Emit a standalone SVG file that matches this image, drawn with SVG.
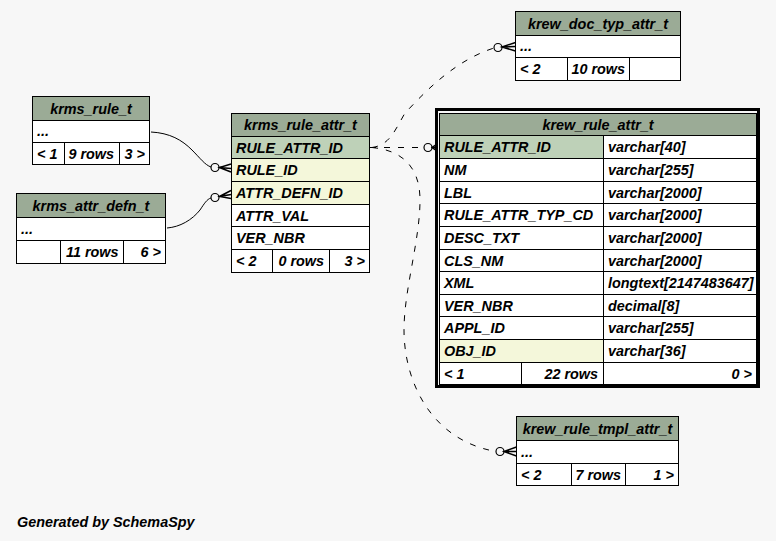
<svg xmlns="http://www.w3.org/2000/svg" width="776" height="541" viewBox="0 0 776 541">
<style>
text{font-family:"Liberation Sans",Arial,Helvetica,sans-serif;font-weight:bold;font-style:italic;font-size:14.4px;fill:#000}
.m{text-anchor:middle}
.r{text-anchor:end}
.hd{fill:#9bab96;stroke:#000;stroke-width:1}
.c{fill:#fff;stroke:#000;stroke-width:1}
.pk{fill:#bed1b8;stroke:#000;stroke-width:1}
.ix{fill:#f4f7da;stroke:#000;stroke-width:1}
.e{fill:none;stroke:#000;stroke-width:1}
.d{stroke-dasharray:6,8}
.dot{fill:none;stroke:#000;stroke-width:1.2}
.crow{fill:none;stroke:#000;stroke-width:1.5}
</style>
<rect x="0" y="0" width="776" height="541" fill="#f7f7f7"/>

<g id="edges">
  <path class="e" d="M151,132 C170,133 182,140 192,150 C200,158 205,165 211,167"/>
  <circle class="dot" cx="215" cy="167.5" r="4"/>
  <path class="crow" d="M231,164 L219.5,167.5 L231,172 M219.5,167.5 L231,168.5"/>

  <path class="e" d="M167,228 C180,227 192,220 200,210 C204,204 207,199 211,198"/>
  <circle class="dot" cx="215" cy="197.5" r="4"/>
  <path class="crow" d="M231,190.5 L219.5,196.5 L231,198.5 M219.5,196.5 L231,194.5"/>

  <path class="e d" d="M370,147.5 L424,147.5"/>
  <circle class="dot" cx="428" cy="147.5" r="4"/>
  <path class="crow" d="M437,144 L432,147.5 L437,151 M432,147.5 L437,147.5"/>

  <path class="e d" d="M372,147.5 C390,145 395,130 405,113 C418,100 450,62 494,48"/>
  <circle class="dot" cx="498" cy="47.5" r="4"/>
  <path class="crow" d="M515.5,42.5 L502,47 L515.5,51 M502,47 L515.5,46.5"/>

  <path class="e d" d="M372,147.5 C400,150 420,165 420,200 C420,240 404,290 404,330 C404,380 430,440 496,451.5"/>
  <circle class="dot" cx="500" cy="451.5" r="4"/>
  <path class="crow" d="M516.5,447 L504,451.5 L516.5,456 M504,451.5 L516.5,451.5"/>
</g>

<g id="krew_doc_typ_attr_t">
  <rect class="hd" x="515.5" y="11.5" width="165" height="24"/>
  <rect class="c" x="515.5" y="35.5" width="165" height="22"/>
  <rect class="c" x="515.5" y="57.5" width="52" height="23"/>
  <rect class="c" x="567.5" y="57.5" width="62" height="23"/>
  <rect class="c" x="629.5" y="57.5" width="51" height="23"/>
  <text class="m" x="598" y="28.5">krew_doc_typ_attr_t</text>
  <text x="520" y="51">...</text>
  <text x="520" y="74">&lt; 2</text>
  <text class="r" x="625" y="74">10 rows</text>
</g>

<g id="krms_rule_t">
  <rect class="hd" x="32.5" y="96.5" width="117" height="24"/>
  <rect class="c" x="32.5" y="120.5" width="117" height="22"/>
  <rect class="c" x="32.5" y="142.5" width="32" height="22"/>
  <rect class="c" x="64.5" y="142.5" width="55" height="22"/>
  <rect class="c" x="119.5" y="142.5" width="30" height="22"/>
  <text class="m" x="91" y="113.5">krms_rule_t</text>
  <text x="37" y="136">...</text>
  <text x="37" y="158.5">&lt; 1</text>
  <text class="r" x="114" y="158.5">9 rows</text>
  <text class="r" x="145" y="158.5">3 &gt;</text>
</g>

<g id="krms_attr_defn_t">
  <rect class="hd" x="16.5" y="193.5" width="149" height="24"/>
  <rect class="c" x="16.5" y="217.5" width="149" height="23"/>
  <rect class="c" x="16.5" y="240.5" width="44" height="23"/>
  <rect class="c" x="60.5" y="240.5" width="63" height="23"/>
  <rect class="c" x="123.5" y="240.5" width="42" height="23"/>
  <text class="m" x="91" y="210.5">krms_attr_defn_t</text>
  <text x="21" y="234">...</text>
  <text class="r" x="118.5" y="257">11 rows</text>
  <text class="r" x="161" y="257">6 &gt;</text>
</g>

<g id="krms_rule_attr_t">
  <rect class="hd" x="231.5" y="113.5" width="138" height="23"/>
  <rect class="pk" x="231.5" y="136.5" width="138" height="22"/>
  <rect class="ix" x="231.5" y="158.5" width="138" height="23"/>
  <rect class="ix" x="231.5" y="181.5" width="138" height="23"/>
  <rect class="c" x="231.5" y="204.5" width="138" height="22"/>
  <rect class="c" x="231.5" y="226.5" width="138" height="23"/>
  <rect class="c" x="231.5" y="249.5" width="41" height="23"/>
  <rect class="c" x="272.5" y="249.5" width="57" height="23"/>
  <rect class="c" x="329.5" y="249.5" width="40" height="23"/>
  <text class="m" x="300.5" y="130">krms_rule_attr_t</text>
  <text x="236" y="152.5">RULE_ATTR_ID</text>
  <text x="236" y="175">RULE_ID</text>
  <text x="236" y="198">ATTR_DEFN_ID</text>
  <text x="236" y="220.5">ATTR_VAL</text>
  <text x="236" y="243">VER_NBR</text>
  <text x="236" y="266">&lt; 2</text>
  <text class="r" x="324" y="266">0 rows</text>
  <text class="r" x="365" y="266">3 &gt;</text>
</g>

<g id="krew_rule_attr_t">
  <rect x="436.5" y="109.5" width="322" height="277" fill="none" stroke="#000" stroke-width="3"/>
  <rect class="hd" x="439.5" y="113.5" width="317" height="22"/>
  <rect class="pk" x="439.5" y="135.5" width="164" height="23"/>
  <rect class="c" x="603.5" y="135.5" width="153" height="23"/>
  <rect class="c" x="439.5" y="158.5" width="164" height="23"/>
  <rect class="c" x="603.5" y="158.5" width="153" height="23"/>
  <rect class="c" x="439.5" y="181.5" width="164" height="22"/>
  <rect class="c" x="603.5" y="181.5" width="153" height="22"/>
  <rect class="c" x="439.5" y="203.5" width="164" height="23"/>
  <rect class="c" x="603.5" y="203.5" width="153" height="23"/>
  <rect class="c" x="439.5" y="226.5" width="164" height="23"/>
  <rect class="c" x="603.5" y="226.5" width="153" height="23"/>
  <rect class="c" x="439.5" y="249.5" width="164" height="22"/>
  <rect class="c" x="603.5" y="249.5" width="153" height="22"/>
  <rect class="c" x="439.5" y="271.5" width="164" height="23"/>
  <rect class="c" x="603.5" y="271.5" width="153" height="23"/>
  <rect class="c" x="439.5" y="294.5" width="164" height="22"/>
  <rect class="c" x="603.5" y="294.5" width="153" height="22"/>
  <rect class="c" x="439.5" y="316.5" width="164" height="23"/>
  <rect class="c" x="603.5" y="316.5" width="153" height="23"/>
  <rect class="ix" x="439.5" y="339.5" width="164" height="23"/>
  <rect class="c" x="603.5" y="339.5" width="153" height="23"/>
  <rect class="c" x="439.5" y="362.5" width="82" height="22"/>
  <rect class="c" x="521.5" y="362.5" width="82" height="22"/>
  <rect class="c" x="603.5" y="362.5" width="153" height="22"/>
  <text class="m" x="598" y="129.5">krew_rule_attr_t</text>
  <text x="444" y="152">RULE_ATTR_ID</text><text x="608" y="152">varchar[40]</text>
  <text x="444" y="175">NM</text><text x="608" y="175">varchar[255]</text>
  <text x="444" y="197.5">LBL</text><text x="608" y="197.5">varchar[2000]</text>
  <text x="444" y="220">RULE_ATTR_TYP_CD</text><text x="608" y="220">varchar[2000]</text>
  <text x="444" y="243">DESC_TXT</text><text x="608" y="243">varchar[2000]</text>
  <text x="444" y="265.5">CLS_NM</text><text x="608" y="265.5">varchar[2000]</text>
  <text x="444" y="288">XML</text><text x="608" y="288">longtext[2147483647]</text>
  <text x="444" y="310.5">VER_NBR</text><text x="608" y="310.5">decimal[8]</text>
  <text x="444" y="333">APPL_ID</text><text x="608" y="333">varchar[255]</text>
  <text x="444" y="356">OBJ_ID</text><text x="608" y="356">varchar[36]</text>
  <text x="444" y="378.5">&lt; 1</text>
  <text class="r" x="598" y="378.5">22 rows</text>
  <text class="r" x="752" y="378.5">0 &gt;</text>
</g>

<g id="krew_rule_tmpl_attr_t">
  <rect class="hd" x="516.5" y="416.5" width="162" height="24"/>
  <rect class="c" x="516.5" y="440.5" width="162" height="23"/>
  <rect class="c" x="516.5" y="463.5" width="55" height="22"/>
  <rect class="c" x="571.5" y="463.5" width="54" height="22"/>
  <rect class="c" x="625.5" y="463.5" width="53" height="22"/>
  <text class="m" x="597.5" y="433.5">krew_rule_tmpl_attr_t</text>
  <text x="521" y="457">...</text>
  <text x="521" y="479.5">&lt; 2</text>
  <text class="r" x="621" y="479.5">7 rows</text>
  <text class="r" x="674" y="479.5">1 &gt;</text>
</g>

<text x="17" y="526.5">Generated by SchemaSpy</text>
</svg>
